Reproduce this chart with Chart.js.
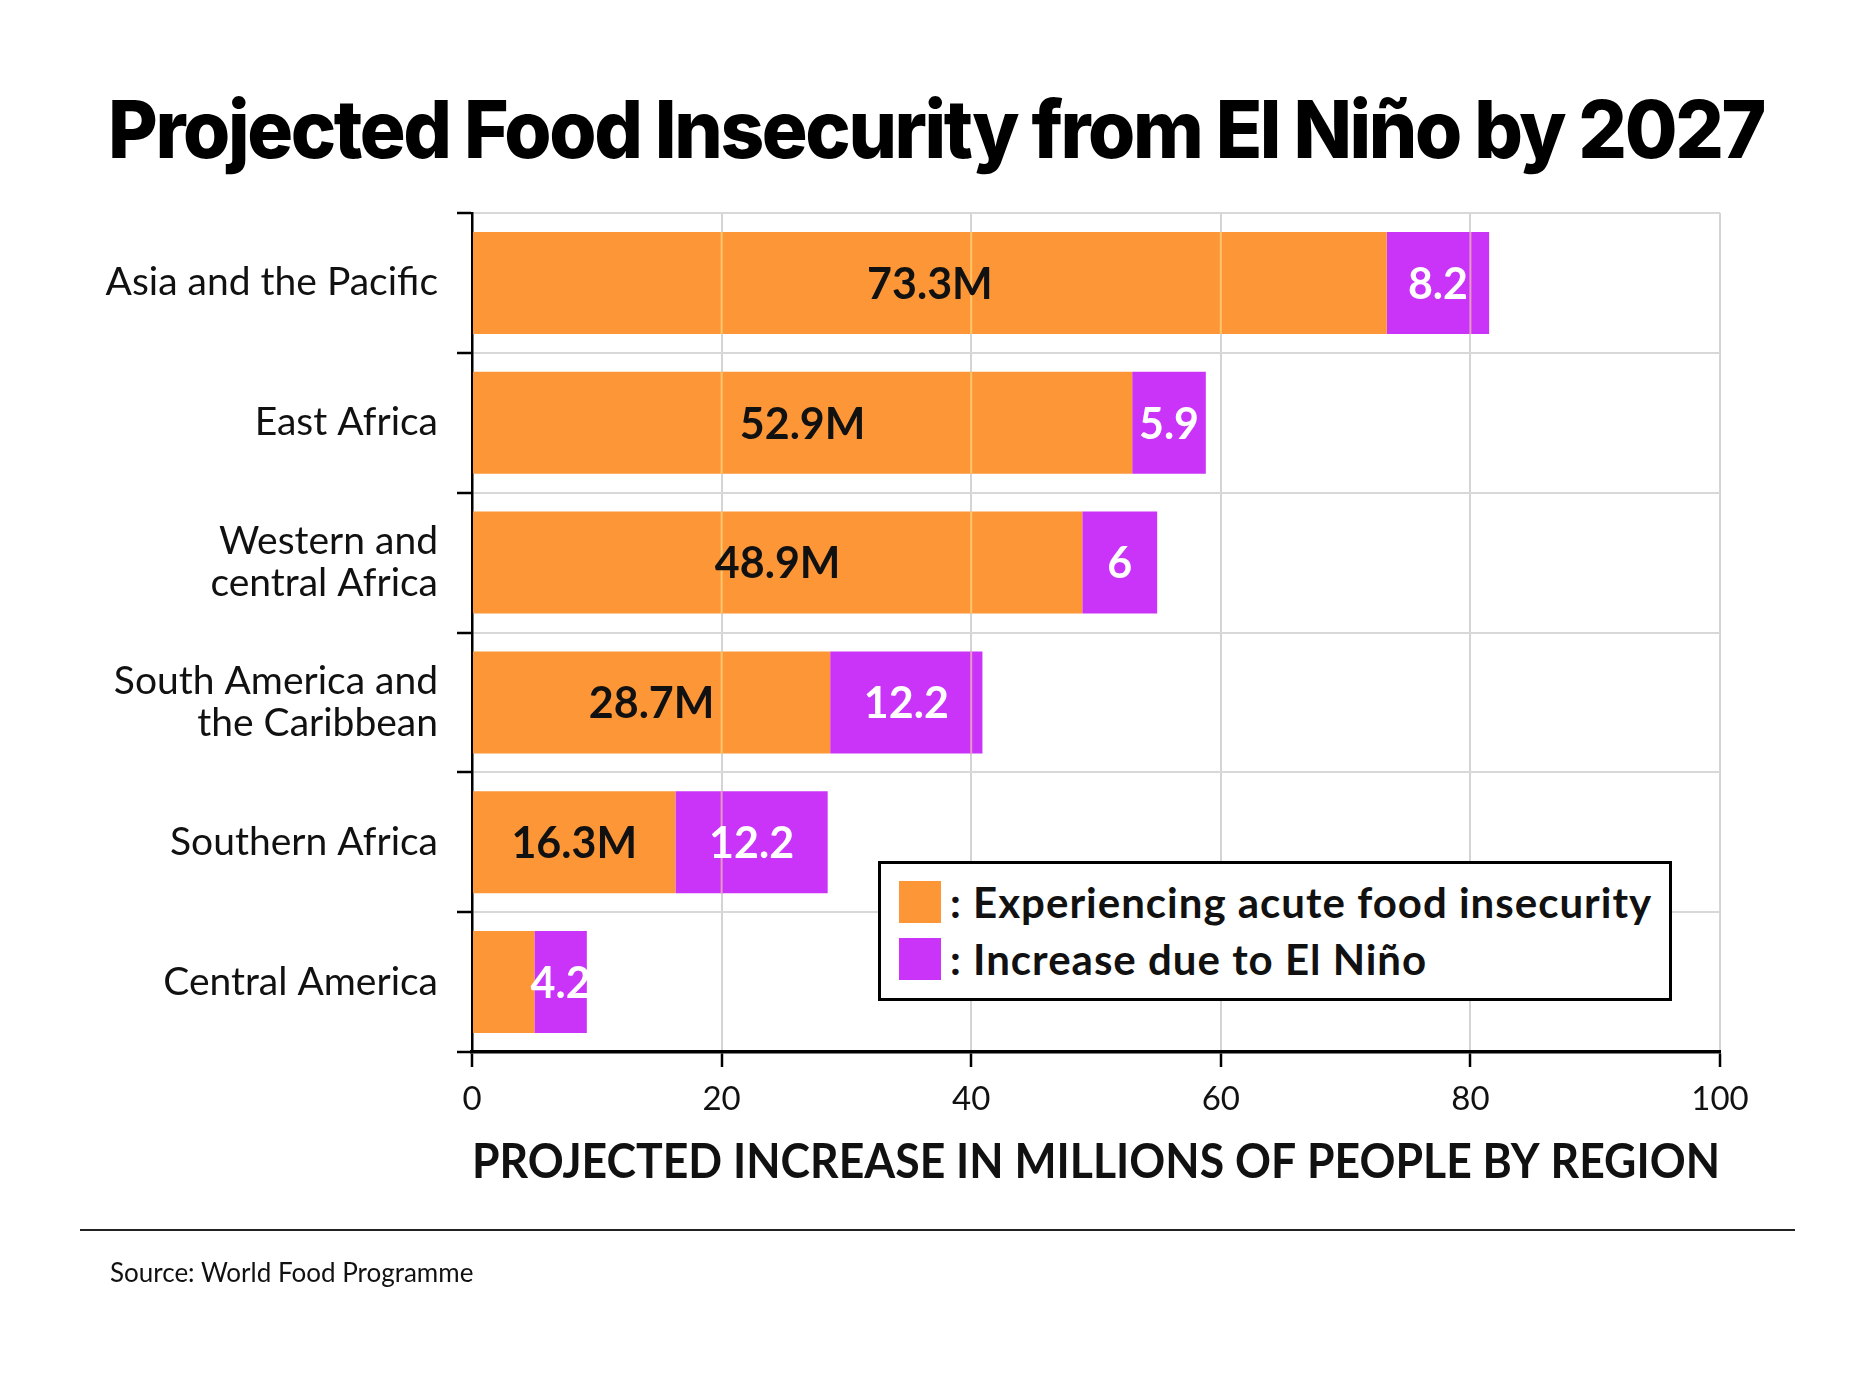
<!DOCTYPE html>
<html>
<head>
<meta charset="utf-8">
<script src="https://cdn.jsdelivr.net/npm/chart.js@4.4.1/dist/chart.umd.min.js"></script>
<style>
  html, body { margin: 0; padding: 0; background: #fff; }
  body { width: 1875px; height: 1395px; position: relative; overflow: hidden; font-family: Lato, "Noto Sans", sans-serif; color: #111; }
  #title {
    position: absolute; left: 108px; top: 89px; margin: 0;
    font-family: Inter, "Noto Sans", sans-serif; font-weight: 800; font-size: 80px;
    line-height: 1; letter-spacing: -2.5px; white-space: nowrap; color: #000;
    transform-origin: 0 0;
  }
  #chartBox { position: absolute; left: 0; top: 0; width: 1875px; height: 1395px; }
  #legend {
    position: absolute; left: 878px; top: 861px; width: 788px; height: 134px;
    border: 3px solid #000; background: #fff; box-sizing: content-box;
  }
  .lg-row { position: absolute; left: 18px; height: 42px; display: flex; align-items: center; white-space: nowrap; }
  .lg-sw { width: 42px; height: 42px; margin-right: 9px; }
  .lg-tx { font-size: 42px; font-weight: 700; letter-spacing: 1px; color: #111; }
  #rule { position: absolute; left: 80px; top: 1229px; width: 1715px; height: 2px; background: #222; }
  #source { position: absolute; left: 110px; top: 1259px; font-size: 26px; line-height: 1; color: #111; }
</style>
</head>
<body>
<div id="title">Projected Food Insecurity from El Niño by 2027</div>
<div id="chartBox"><canvas id="chart" width="1875" height="1395"></canvas></div>
<div id="legend"></div>
<div id="rule"></div>
<div id="source">Source: World Food Programme</div>

<script>
// ===== DATA =====
const regions = [
  "Asia and the Pacific",
  "East Africa",
  ["Western and", "central Africa"],
  ["South America and", "the Caribbean"],
  "Southern Africa",
  "Central America"
];
const acuteValues  = [73.3, 52.9, 48.9, 28.7, 16.3, 5.0];
const acuteLabels  = ["73.3M", "52.9M", "48.9M", "28.7M", "16.3M", ""];
const elNinoValues = [8.2, 5.9, 6, 12.2, 12.2, 4.2];
const elNinoLabels = ["8.2", "5.9", "6", "12.2", "12.2", "4.2"];
const seriesNames  = [": Experiencing acute food insecurity", ": Increase due to El Niño"];
const xTicks       = [0, 20, 40, 60, 80, 100];
const axisTitle    = "PROJECTED INCREASE IN MILLIONS OF PEOPLE BY REGION";

const ORANGE = "#FC9637";
const PURPLE = "#C934F8";

// ===== PLUGINS =====
// faint grid lines that show through the bars
const gridOverBars = {
  id: "gridOverBars",
  afterDatasetsDraw(chart) {
    const ctx = chart.ctx;
    const xs = chart.scales.x;
    ctx.save();
    ctx.beginPath();
    chart.data.datasets.forEach((ds, di) => {
      chart.getDatasetMeta(di).data.forEach(bar => {
        const p = bar.getProps(["x", "y", "base", "height"], true);
        ctx.rect(Math.min(p.x, p.base), p.y - p.height / 2, Math.abs(p.x - p.base), p.height);
      });
    });
    ctx.clip();
    ctx.strokeStyle = "rgba(255, 236, 150, 0.55)";
    ctx.lineWidth = 2;
    xTicks.forEach(v => {
      const px = xs.getPixelForValue(v);
      ctx.beginPath();
      ctx.moveTo(px, chart.chartArea.top);
      ctx.lineTo(px, chart.chartArea.bottom);
      ctx.stroke();
    });
    ctx.restore();
  }
};

// value text centred in each bar segment
const barLabels = {
  id: "barLabels",
  afterDatasetsDraw(chart) {
    const ctx = chart.ctx;
    ctx.save();
    ctx.textAlign = "center";
    ctx.textBaseline = "middle";
    chart.data.datasets.forEach((ds, di) => {
      ctx.font = "bold 43px Lato, 'Noto Sans', sans-serif";
      ctx.fillStyle = ds.labelColor;
      chart.getDatasetMeta(di).data.forEach((bar, i) => {
        const txt = ds.valueLabels[i];
        if (!txt) return;
        const p = bar.getProps(["x", "y", "base"], true);
        ctx.fillText(txt, (p.x + p.base) / 2, p.y + 2);
      });
    });
    ctx.restore();
  }
};

// ===== CHART =====
const chart = new Chart(document.getElementById("chart"), {
  type: "bar",
  data: {
    labels: regions,
    datasets: [
      {
        label: seriesNames[0],
        data: acuteValues,
        backgroundColor: ORANGE,
        valueLabels: acuteLabels,
        labelColor: "#111"
      },
      {
        label: seriesNames[1],
        data: elNinoValues,
        backgroundColor: PURPLE,
        valueLabels: elNinoLabels,
        labelColor: "#fff"
      }
    ]
  },
  options: {
    indexAxis: "y",
    responsive: false,
    animation: false,
    devicePixelRatio: 1,
    barPercentage: 0.73,
    categoryPercentage: 1,
    layout: { padding: { left: 0, right: 155, top: 213, bottom: 203 } },
    plugins: {
      legend: { display: false },
      tooltip: { enabled: false }
    },
    scales: {
      x: {
        stacked: true,
        min: 0,
        max: 100,
        afterBuildTicks: s => { s.ticks = xTicks.map(v => ({ value: v })); },
        afterFit: s => { s.height = 140; },
        ticks: {
          color: "#111",
          padding: 13,
          font: { family: "Lato", size: 33 }
        },
        grid: {
          color: "#d4d4d4",
          lineWidth: 2,
          tickLength: 15,
          tickColor: "#000",
          tickWidth: 2.5
        },
        border: { color: "#000", width: 3.5 },
        title: {
          display: true,
          text: axisTitle,
          color: "#111",
          font: { family: "Lato", size: 47.5, weight: "bold" },
          padding: { top: 0, bottom: 1 }
        }
      },
      y: {
        stacked: true,
        afterFit: s => { s.width = 472; },
        ticks: {
          color: "#111",
          padding: 19,
          font: { family: "Lato", size: 39, lineHeight: 1.08 }
        },
        grid: {
          offset: true,
          color: "#d8d8d8",
          lineWidth: 2,
          tickLength: 15,
          tickColor: "#000",
          tickWidth: 2.5
        },
        border: { color: "#000", width: 2.5 }
      }
    }
  },
  plugins: [gridOverBars, barLabels]
});

// ===== LEGEND =====
const legendEl = document.getElementById("legend");
chart.data.datasets.forEach((ds, i) => {
  const row = document.createElement("div");
  row.className = "lg-row";
  row.style.top = (17 + i * 57) + "px";
  row.innerHTML = `<div class="lg-sw" style="background:${ds.backgroundColor}"></div><span class="lg-tx">${ds.label}</span>`;
  legendEl.appendChild(row);
});

// ===== TITLE WIDTH =====
function fitTitle() {
  const t = document.getElementById("title");
  t.style.transform = "none";
  const w = t.getBoundingClientRect().width;
  t.style.transform = `scaleX(${1656 / w})`;
}
fitTitle();
if (document.fonts && document.fonts.ready) document.fonts.ready.then(fitTitle);
</script>
</body>
</html>
